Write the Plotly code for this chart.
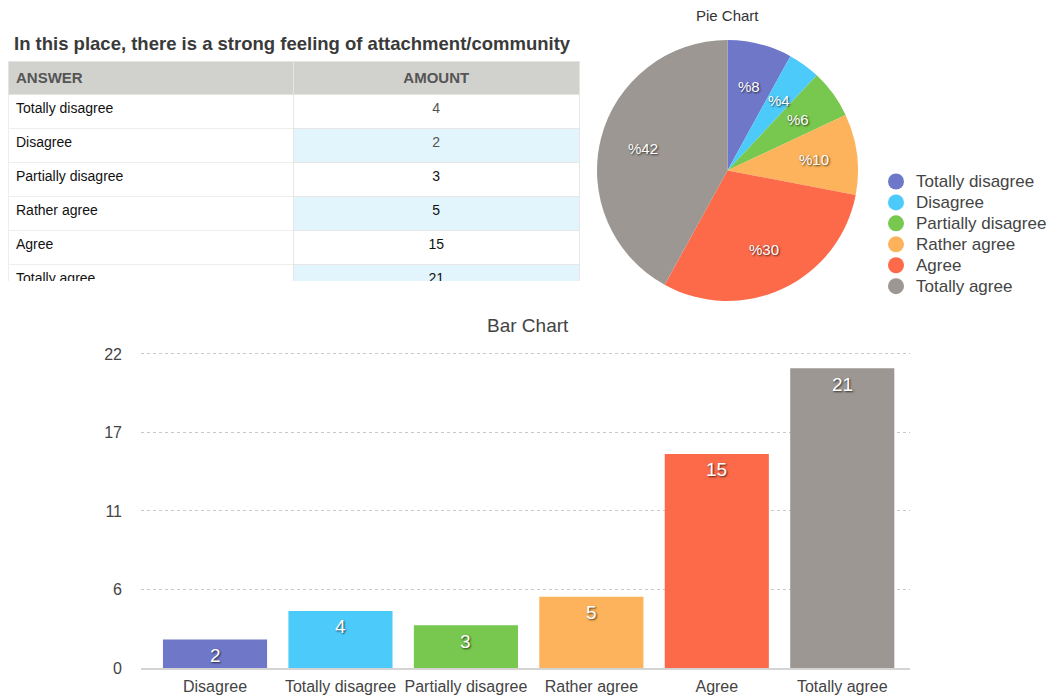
import math
import plotly.graph_objects as go

# ---- data ----
table_title = "In this place, there is a strong feeling of attachment/community"
table_header = ["ANSWER", "AMOUNT"]
answers = ["Totally disagree", "Disagree", "Partially disagree", "Rather agree", "Agree", "Totally agree"]
amounts = [4, 2, 3, 5, 15, 21]

pie_labels = ["Totally disagree", "Disagree", "Partially disagree", "Rather agree", "Agree", "Totally agree"]
pie_values = [4, 2, 3, 5, 15, 21]

bar_categories = ["Disagree", "Totally disagree", "Partially disagree", "Rather agree", "Agree", "Totally agree"]
bar_values = [2, 4, 3, 5, 15, 21]
y_tick_vals = [0, 5.5, 11, 16.5, 22]
y_tick_text = ["0", "6", "11", "17", "22"]

colors = ["#6f77c8", "#4ccbfb", "#78c74e", "#fdb35b", "#fd6a4a", "#9c9792"]

W, H = 1057, 696
OFF = 8  # page body margin
FONT = "Liberation Sans, Arial, sans-serif"

def px_x(x):
    return min(1.0, max(0.0, (x - OFF) / W))

def px_y(y):
    return min(1.0, max(0.0, 1 - (y - OFF) / H))

fig = go.Figure()

# ---- table ----
total = sum(pie_values)
value_colors = ["#555555", "#555555", "#111111", "#111111", "#111111", "#111111"]
fig.add_trace(go.Table(
    domain=dict(x=[px_x(7), px_x(579)], y=[px_y(282), px_y(61)]),
    columnwidth=[286, 286],
    header=dict(
        values=[f"<b>{h}</b>" for h in table_header],
        fill_color="#d1d1cd",
        line=dict(color="#e4e4e0", width=1),
        align=["left", "center"],
        height=32,
        font=dict(family=FONT, size=15, color="#555555"),
    ),
    cells=dict(
        values=[answers, amounts],
        fill=dict(color=[["white"] * 6,
                         ["white" if i % 2 == 0 else "#e2f5fc" for i in range(6)]]),
        line=dict(color=["#eeeeee", "#e6e6e6"], width=1),
        align=["left", "center"],
        height=34,
        font=dict(family=FONT, size=14, color=[["#111111"] * 6, value_colors]),
    ),
))

# ---- pie ----
PIE_L, PIE_R, PIE_T, PIE_B = 597, 858, 40, 301
fig.add_trace(go.Pie(
    labels=pie_labels,
    values=pie_values,
    textinfo="none",
    sort=False,
    direction="clockwise",
    rotation=0,
    marker=dict(colors=colors, line=dict(width=0)),
    domain=dict(x=[px_x(PIE_L), px_x(PIE_R)], y=[px_y(PIE_B), px_y(PIE_T)]),
    showlegend=False,
    hoverinfo="label+value",
))

# pie percentage labels, placed at mid-angle of each slice
cx, cy = (PIE_L + PIE_R) / 2, (PIE_T + PIE_B) / 2
radius = min(PIE_R - PIE_L, PIE_B - PIE_T) / 2
label_font = dict(family=FONT, size=15, color="white", shadow="1px 1px 2px rgba(0,0,0,0.7)")
pie_annotations = []
cum = 0
for v in pie_values:
    mid = (cum + v / 2) / total * 2 * math.pi
    cum += v
    lx = cx + 0.665 * radius * math.sin(mid)
    ly = cy - 0.665 * radius * math.cos(mid)
    pie_annotations.append(dict(
        text=f"%{round(v / total * 100)}", x=px_x(lx), y=px_y(ly),
        xref="paper", yref="paper", xanchor="center", yanchor="middle",
        showarrow=False, font=label_font,
    ))

# ---- legend-only markers (circles) on hidden axes ----
for lab, col in zip(pie_labels, colors):
    fig.add_trace(go.Scatter(
        x=[None], y=[None], mode="markers",
        name=f'<span style="font-size:17px">{lab}</span>',
        marker=dict(symbol="circle", size=17, color=col),
        xaxis="x2", yaxis="y2", showlegend=True, hoverinfo="skip",
    ))

# ---- bar ----
fig.add_trace(go.Bar(
    x=bar_categories,
    y=bar_values,
    marker=dict(color=colors, line=dict(width=0)),
    showlegend=False,
    xaxis="x", yaxis="y",
))

# bar value labels, anchored to each bar top through the data axes
bar_annotations = [
    dict(text=str(v), x=c, y=v, xref="x", yref="y", xanchor="center", yanchor="middle",
         yshift=-16, showarrow=False,
         font=dict(family=FONT, size=19, color="white", shadow="1px 1px 2px rgba(0,0,0,0.7)"))
    for c, v in zip(bar_categories, bar_values)
]

Y_MAX = 22.3
fig.update_layout(
    width=W, height=H,
    margin=dict(l=0, r=0, t=0, b=0, pad=0),
    paper_bgcolor="white",
    plot_bgcolor="white",
    font=dict(family=FONT, color="#444444"),
    bargap=0.17,
    xaxis=dict(
        type="category",
        categoryorder="array", categoryarray=bar_categories,
        domain=[px_x(141), px_x(910)],
        range=[-0.59, 5.54],
        showline=True, linecolor="#d4d4d4", linewidth=2,
        showgrid=False, zeroline=False,
        ticks="", tickfont=dict(family=FONT, size=16, color="#444444"),
        ticklabelstandoff=3,
        fixedrange=True, automargin=False,
    ),
    yaxis=dict(
        domain=[px_y(668), px_y(668 - (668 - 354) * Y_MAX / 22)],
        range=[0, Y_MAX],
        tickvals=y_tick_vals, ticktext=y_tick_text,
        showgrid=True, gridcolor="#c8c8c8", griddash="dot", gridwidth=1,
        zeroline=False, showline=False,
        ticks="", tickfont=dict(family=FONT, size=16, color="#444444"),
        ticklabelstandoff=18,
        fixedrange=True, automargin=False,
    ),
    xaxis2=dict(visible=False, domain=[0.98, 1.0], anchor="y2", automargin=False),
    yaxis2=dict(visible=False, domain=[0.98, 1.0], anchor="x2", automargin=False),
    legend=dict(
        x=px_x(876), y=px_y(166), xanchor="left", yanchor="top",
        font=dict(family=FONT, size=13.8, color="#444444"),
        bgcolor="rgba(0,0,0,0)",
        itemclick=False, itemdoubleclick=False,
        tracegroupgap=0,
    ),
    annotations=[
        dict(text=f"<b>{table_title}</b>", x=px_x(12), y=px_y(44), xref="paper", yref="paper",
             xanchor="left", yanchor="middle", showarrow=False,
             font=dict(family=FONT, size=18.5, color="#3a3a3a")),
        dict(text="Pie Chart", x=px_x(727), y=px_y(16), xref="paper", yref="paper",
             xanchor="center", yanchor="middle", showarrow=False,
             font=dict(family=FONT, size=15, color="#333333")),
        dict(text="Bar Chart", x=px_x(528), y=px_y(325), xref="paper", yref="paper",
             xanchor="center", yanchor="middle", showarrow=False,
             font=dict(family=FONT, size=19, color="#444444")),
    ] + pie_annotations + bar_annotations,
)

fig.write_html("out.html")
